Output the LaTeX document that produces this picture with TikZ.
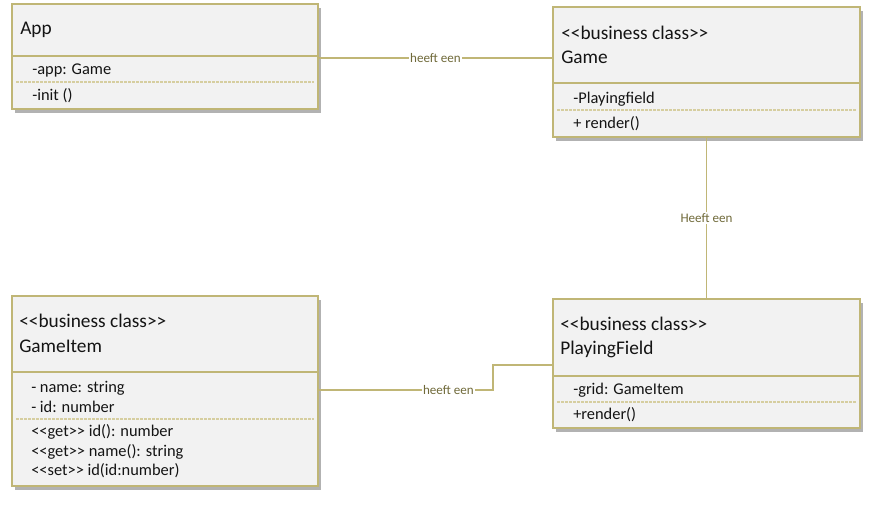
\documentclass[tikz,border=0pt]{standalone}
\usepackage{fontspec}
\setmainfont{Carlito}[Ligatures=ResetAll]
\usetikzlibrary{fit,shadows}
\newcommand\dlt{<\kern0pt<}
\newcommand\dgt{>\kern0pt>}
\definecolor{olv}{RGB}{192,182,118}
\definecolor{olvlight}{RGB}{214,206,160}
\definecolor{boxfill}{RGB}{242,242,242}
\definecolor{lbltxt}{RGB}{112,106,58}
\definecolor{txt}{RGB}{20,20,20}
\tikzset{
  cls/.style={draw=olv, line width=1.5pt, fill=boxfill, inner sep=0pt,
    drop shadow={shadow xshift=2pt, shadow yshift=-3pt, fill=black!60, opacity=0.5}},
  divider/.style={draw=olv, line width=1.3pt},
  dashsep/.style={draw=olvlight, line width=0.8pt, dash pattern=on 2pt off 1pt},
  head/.style={anchor=base west, inner sep=0pt, font=\fontsize{14.5}{17}\selectfont, text=txt},
  attr/.style={anchor=base west, inner sep=0pt, font=\fontsize{12.3}{15}\selectfont, text=txt},
  conn/.style={draw=olv, line width=1.2pt},
  lbl/.style={fill=white, inner sep=1pt, font=\fontsize{9.8}{11}\selectfont, text=lbltxt}
}
\begin{document}
\begin{tikzpicture}[x=0.75pt, y=-0.75pt]
\useasboundingbox (0,0) rectangle (872,504);

% App
\node[cls, fit={(12,4) (318,109)}] (app) {};
\draw[divider] (12,56) -- (318,56);
\draw[dashsep] (16,82) -- (314,82);
\node[head] (appname) at (20,34) {App};
\node[attr] (appa1) at (32,74) {-app: Game};
\node[attr] (appm1) at (32,100) {-init ()};

% Game
\node[cls, fit={(553,7) (860,137)}] (game) {};
\draw[divider] (553,83) -- (860,83);
\draw[dashsep] (557,110) -- (856,110);
\node[head] (gamest) at (561,39) {\dlt business class\dgt};
\node[head] (gamename) at (561,63) {Game};
\node[attr] (gamea1) at (573,103) {-Playingfield};
\node[attr] (gamem1) at (573,128) {+ render()};

% GameItem
\node[cls, fit={(12,296) (318,486)}] (item) {};
\draw[divider] (12,372) -- (318,372);
\draw[dashsep] (16,419) -- (314,419);
\node[head] (itemst) at (19,327) {\dlt business class\dgt};
\node[head] (itemname) at (19,352) {GameItem};
\node[attr] (itema1) at (31,392) {- name: string};
\node[attr] (itema2) at (31,412) {- id: number};
\node[attr] (itemm1) at (31,436) {\dlt get\dgt{} id(): number};
\node[attr] (itemm2) at (31,456) {\dlt get\dgt{} name(): string};
\node[attr] (itemm3) at (31,475) {\dlt set\dgt{} id(id:number)};

% PlayingField
\node[cls, fit={(553,299) (860,428)}] (field) {};
\draw[divider] (553,376) -- (860,376);
\draw[dashsep] (557,402) -- (856,402);
\node[head] (fieldst) at (560,330) {\dlt business class\dgt};
\node[head] (fieldname) at (560,354) {PlayingField};
\node[attr] (fielda1) at (573,394) {-grid: GameItem};
\node[attr] (fieldm1) at (573,419) {+render()};

% connectors
\coordinate (appr) at (318,58);
\coordinate (gamel) at (553,58);
\draw[conn] (appr) -- node[lbl] (l1) {heeft een} (gamel);
\draw[conn] (game.south) -- node[lbl] (l2) {Heeft een} (field.north);
\coordinate (itemr) at (318,390);
\coordinate (bend) at (493,390);
\coordinate (fieldl) at (553,365);
\draw[conn] (itemr) -- node[lbl, pos=0.745] (l3) {heeft een} (bend) |- (fieldl);
\end{tikzpicture}
\end{document}
